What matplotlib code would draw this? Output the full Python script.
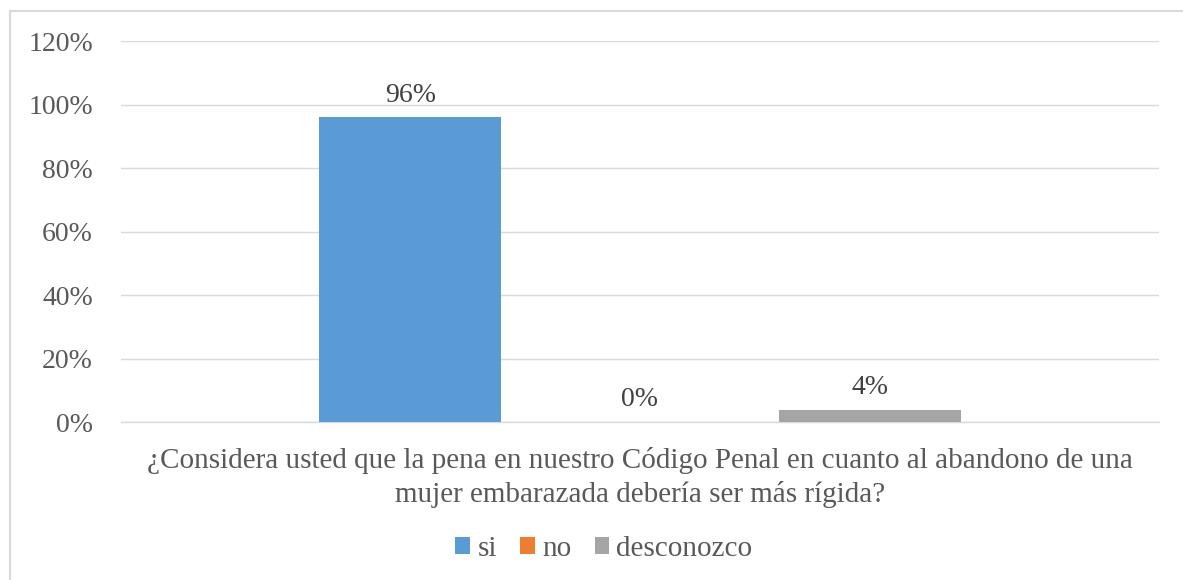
import matplotlib
matplotlib.use("Agg")
import matplotlib.pyplot as plt
from matplotlib.patches import Rectangle

# data
series = ["si", "no", "desconozco"]
values = [0.96, 0.00, 0.04]
colors = ["#5B9BD5", "#ED7D31", "#A5A5A5"]
yticks = [0, 0.2, 0.4, 0.6, 0.8, 1.0, 1.2]
ytick_labels = ["0%", "20%", "40%", "60%", "80%", "100%", "120%"]
question = ["¿Considera usted que la pena en nuestro Código Penal en cuanto al abandono de una",
            "mujer embarazada debería ser más rígida?"]

plt.rcParams["font.family"] = ["Liberation Serif", "DejaVu Serif"]
txt = "#595959"
fs = 20
fs_big = 21

W, H = 1183, 580
fig = plt.figure(figsize=(W / 100, H / 100), dpi=100)
fig.patches.append(Rectangle((10 / W, -0.05), 1.2, 1 - 11 / H + 0.05, transform=fig.transFigure,
                             fill=False, edgecolor="#D9D9D9", linewidth=1.5))

ax = fig.add_axes([120.7 / W, 1 - 422.3 / H, (1159 - 120.7) / W, (422.3 - 41.3) / H])
pos = [-1, 0, 1]
for x, v, c, s in zip(pos, values, colors, series):
    ax.bar(x, v, width=0.792, color=c, label=s, zorder=3)
    ax.annotate(f"{v:.0%}", (x, v), xytext=(0, 11.5), textcoords="offset points",
                ha="center", va="baseline", fontsize=fs, color="#404040")

ax.set_xlim(-2.26, 2.26)
ax.set_ylim(0, 1.2)
ax.set_yticks(yticks)
ax.set_yticklabels(ytick_labels, fontsize=fs, color=txt)
ax.set_xticks([])
ax.tick_params(axis="y", length=0, pad=20)
ax.grid(axis="y", color="#D9D9D9", linewidth=1.0, zorder=0)
for sp in ["top", "right", "left"]:
    ax.spines[sp].set_visible(False)
ax.spines["bottom"].set_color("#D9D9D9")
ax.spines["bottom"].set_linewidth(1.0)

# axis title, two lines as in the original
for i, line in enumerate(question):
    fig.text(640 / W, 1 - (468.3 + 33.5 * i) / H, line, ha="center", va="baseline",
             fontsize=fs_big, color=txt)

fig.legend(loc="center", bbox_to_anchor=(604 / W, 1 - 549 / H), ncol=3, frameon=False,
           fontsize=fs_big, labelcolor=txt, handlelength=0.5, handleheight=0.5,
           handletextpad=0.25, columnspacing=0.8)

fig.savefig("out.png", dpi=100, facecolor="white")
